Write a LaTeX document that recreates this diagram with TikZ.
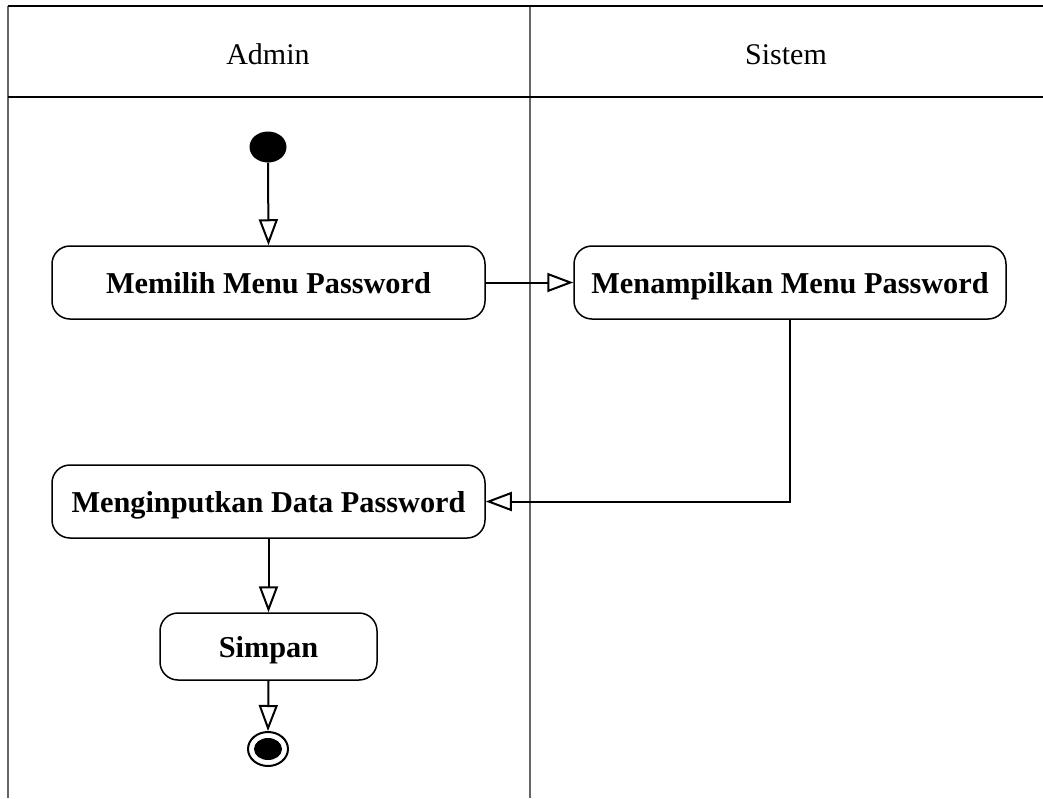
\documentclass[tikz,border=0pt]{standalone}
\usepackage{fontspec}
\setmainfont{Liberation Serif}
\usetikzlibrary{arrows.meta,shapes.geometric}
\begin{document}
\begin{tikzpicture}[x=1pt,y=-1pt,
  act/.style={draw, line width=1.5pt, rounded corners=18pt, fill=white,
    font=\fontsize{30.3}{36}\selectfont\bfseries, inner sep=0pt,
    text height=21pt, text depth=0pt},
  flow/.style={draw, line width=2pt, -{Triangle[open, length=26pt, width=19pt, line width=2pt, fill=white]}},
  lane/.style={draw=black!60, line width=1.5pt},
  hline/.style={draw=black, line width=1.5pt},
  lanehead/.style={font=\fontsize{30}{36}\selectfont, inner sep=0pt, text height=21pt, text depth=0pt},
  startnode/.style={ellipse, fill=black, minimum width=37pt, minimum height=31pt, inner sep=0pt},
  endnode/.style={ellipse, draw, line width=2pt, fill=white, minimum width=40pt, minimum height=34pt, inner sep=0pt,
    path picture={\fill[black] (path picture bounding box.center) ellipse (14pt and 11pt);}}]
\useasboundingbox (0,0) rectangle (1043,798);
\fill[white] (0,0) rectangle (1043,798);
% swimlanes
\draw[lane] (8,6) -- (8,798);
\draw[lane] (530,6) -- (530,798);
\draw[hline] (8,6) -- (1043,6);
\draw[hline] (8,97) -- (1043,97);
\node[lanehead] (hadmin) at (268,54) {Admin};
\node[lanehead] (hsistem) at (786,54) {Sistem};
% nodes
\node[startnode] (start) at (268,147) {};
\node[act, minimum width=433pt, minimum height=73pt] (b1) at (268.5,282.5) {Memilih Menu Password};
\node[act, minimum width=432pt, minimum height=73pt] (b2) at (790,282.5) {Menampilkan Menu Password};
\node[act, minimum width=433pt, minimum height=73pt] (b3) at (268.5,501.5) {Menginputkan Data Password};
\node[act, minimum width=217pt, minimum height=67pt] (b4) at (268.5,646.5) {Simpan};
\node[endnode] (end) at (268,749) {};
% connectors
\draw[flow] (start.south) -- (b1.north);
\draw[flow] (b1.east) -- (b2.west);
\draw[flow] (b2.south) |- (b3.east);
\draw[flow] (b3.south) -- (b4.north);
\draw[flow] (b4.south) -- (end.north);
\end{tikzpicture}
\end{document}
